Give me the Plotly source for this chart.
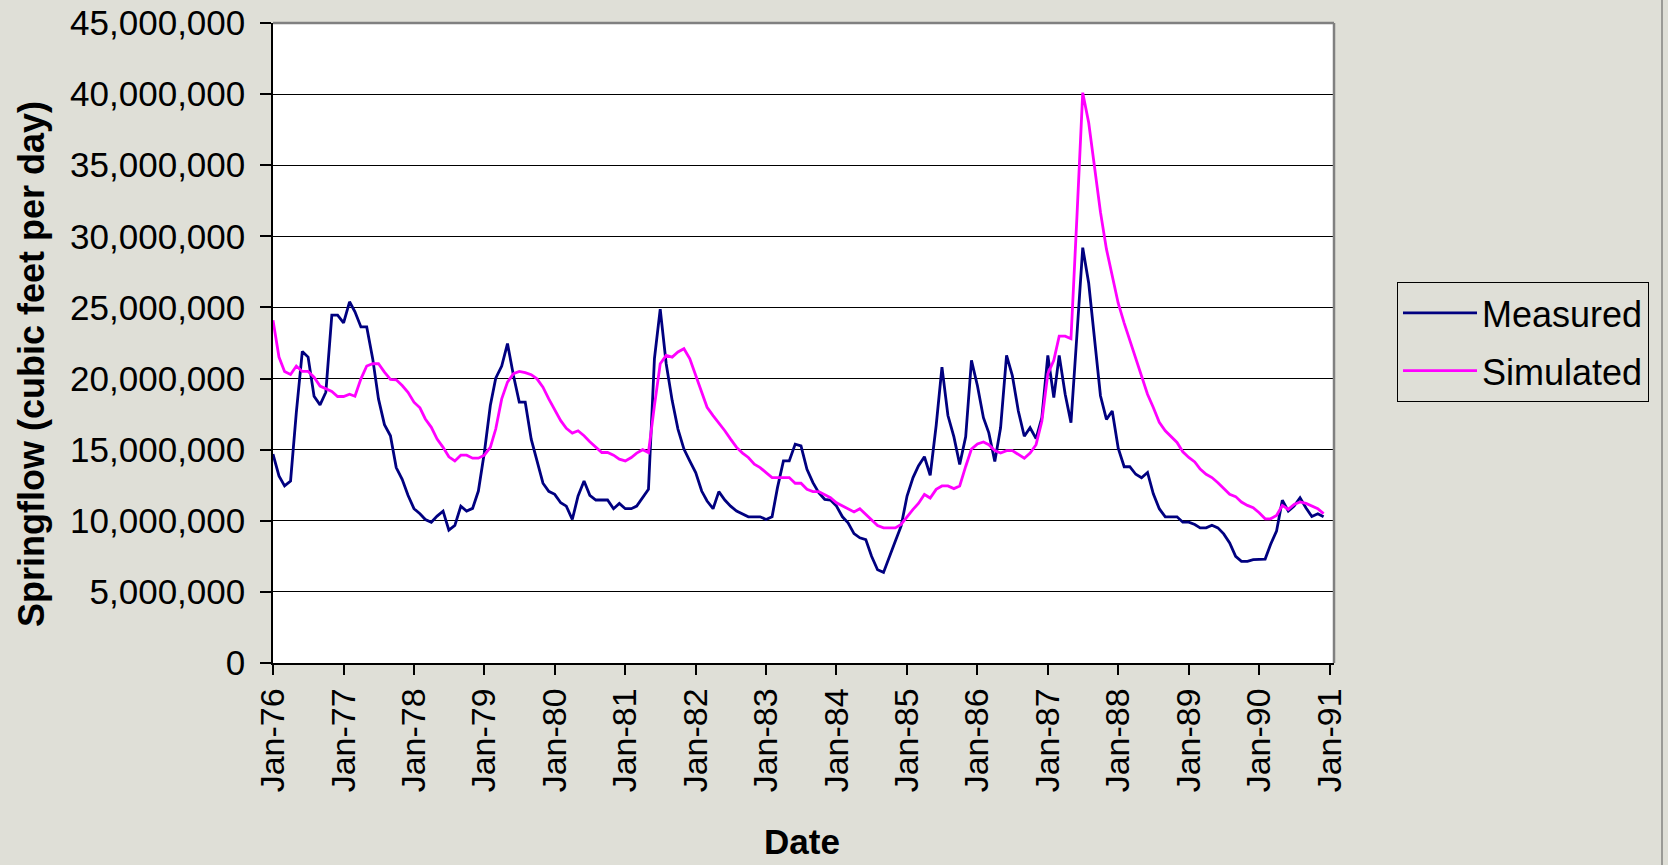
import pandas as pd
import plotly.graph_objects as go

# Monthly springflow, Jan 1976 - Dec 1990, in millions of cubic feet per day
MILLION = 1_000_000

measured_mcfd = [
    14.69, 13.15, 12.45, 12.80, 17.63, 21.91, 21.51, 18.76, 18.15, 19.04, 24.46, 24.46,  # 1976
    23.92, 25.40, 24.69, 23.63, 23.63, 21.40, 18.57, 16.76, 15.98, 13.74, 12.92, 11.79,  # 1977
    10.85, 10.49, 10.09, 9.90, 10.33, 10.68, 9.34, 9.67, 11.03, 10.68, 10.87, 12.09,     # 1978
    14.80, 18.10, 20.03, 20.88, 22.46, 20.22, 18.34, 18.34, 15.74, 14.21, 12.64, 12.07,  # 1979
    11.86, 11.27, 11.03, 10.09, 11.74, 12.80, 11.79, 11.46, 11.46, 11.46, 10.85, 11.22,  # 1980
    10.85, 10.85, 11.03, 11.62, 12.21, 21.40, 24.88, 21.04, 18.45, 16.45, 15.04, 14.21,  # 1981
    13.39, 12.09, 11.39, 10.85, 12.05, 11.46, 11.03, 10.68, 10.49, 10.28, 10.28, 10.28,  # 1982
    10.09, 10.28, 12.33, 14.21, 14.21, 15.39, 15.27, 13.62, 12.68, 11.98, 11.51, 11.46,  # 1983
    11.03, 10.28, 9.86, 9.10, 8.80, 8.68, 7.50, 6.56, 6.37, 7.38, 8.56, 9.62,            # 1984
    11.74, 13.04, 13.86, 14.50, 13.20, 16.70, 20.80, 17.40, 15.90, 13.96, 15.90, 21.28,  # 1985
    19.50, 17.25, 16.18, 14.17, 16.54, 21.63, 20.21, 17.72, 15.94, 16.54, 15.78, 17.25,  # 1986
    21.63, 18.67, 21.63, 18.90, 16.90, 23.10, 29.20, 26.70, 22.70, 18.79, 17.13, 17.72,  # 1987
    15.10, 13.80, 13.80, 13.27, 13.03, 13.40, 11.90, 10.85, 10.28, 10.28, 10.28, 9.90,   # 1988
    9.90, 9.74, 9.50, 9.50, 9.69, 9.50, 9.08, 8.44, 7.50, 7.15, 7.15, 7.27,              # 1989
    7.31, 7.31, 8.33, 9.27, 11.44, 10.68, 11.03, 11.62, 10.90, 10.30, 10.49, 10.28,      # 1990
]

simulated_mcfd = [
    24.10, 21.51, 20.50, 20.29, 20.88, 20.50, 20.50, 20.10, 19.47, 19.28, 19.09, 18.74,  # 1976
    18.74, 18.90, 18.76, 19.98, 20.88, 21.04, 21.04, 20.45, 19.94, 19.91, 19.51, 19.04,  # 1977
    18.34, 17.94, 17.16, 16.57, 15.74, 15.16, 14.50, 14.21, 14.61, 14.61, 14.40, 14.40,  # 1978
    14.61, 15.16, 16.45, 18.57, 19.75, 20.34, 20.50, 20.41, 20.27, 19.98, 19.39, 18.57,  # 1979
    17.75, 17.04, 16.50, 16.17, 16.33, 15.98, 15.56, 15.16, 14.80, 14.80, 14.61, 14.33,  # 1980
    14.21, 14.45, 14.76, 15.00, 14.80, 18.10, 21.04, 21.63, 21.51, 21.87, 22.10, 21.40,  # 1981
    20.22, 19.04, 17.98, 17.39, 16.88, 16.33, 15.74, 15.16, 14.76, 14.45, 13.98, 13.74,  # 1982
    13.39, 13.04, 13.04, 13.04, 13.04, 12.64, 12.64, 12.21, 12.05, 12.05, 11.86, 11.62,  # 1983
    11.27, 11.03, 10.85, 10.62, 10.85, 10.45, 10.05, 9.67, 9.50, 9.50, 9.50, 9.74,       # 1984
    10.28, 10.80, 11.22, 11.85, 11.60, 12.21, 12.45, 12.45, 12.26, 12.45, 13.82, 15.04,  # 1985
    15.40, 15.54, 15.35, 14.93, 14.76, 14.93, 14.93, 14.64, 14.40, 14.76, 15.35, 17.00,  # 1986
    20.33, 21.28, 22.98, 22.98, 22.80, 31.40, 40.10, 37.99, 34.80, 31.70, 29.10, 27.20,  # 1987
    25.30, 23.90, 22.70, 21.50, 20.10, 18.90, 17.97, 16.92, 16.33, 15.93, 15.51, 14.85,  # 1988
    14.45, 14.14, 13.63, 13.27, 13.04, 12.68, 12.26, 11.86, 11.70, 11.32, 11.08, 10.92,  # 1989
    10.56, 10.14, 10.14, 10.38, 11.08, 10.80, 11.15, 11.32, 11.22, 11.03, 10.85, 10.50,  # 1990
]

dates = pd.date_range("1976-01-01", periods=len(measured_mcfd), freq="MS")
measured = [v * MILLION for v in measured_mcfd]
simulated = [v * MILLION for v in simulated_mcfd]

series_names = ["Measured", "Simulated"]
series_colors = ["#000080", "#FF00FF"]

# Page geometry (pixels)
W, H = 1668, 865
PLOT_L, PLOT_R, PLOT_T, PLOT_B = 273, 1334, 23, 663
PW, PH = PLOT_R - PLOT_L, PLOT_B - PLOT_T


def px_x(px):
    return (px - PLOT_L) / PW


def px_y(py):
    return (PLOT_B - py) / PH


FONT = "Arial, 'Liberation Sans', sans-serif"
PAPER = "#DFDFD7"

fig = go.Figure()
for name, color, values in zip(series_names, series_colors, [measured, simulated]):
    fig.add_trace(go.Scatter(
        x=dates, y=values, mode="lines", name=name, legendgroup=name,
        line=dict(color=color, width=2.8),
    ))

fig.update_layout(
    width=W, height=H,
    margin=dict(l=PLOT_L, r=W - PLOT_R, t=PLOT_T, b=H - PLOT_B, pad=0, autoexpand=False),
    paper_bgcolor=PAPER, plot_bgcolor="#FFFFFF",
    font=dict(family=FONT, size=34, color="#000000"),
    showlegend=True,
    legend=dict(
        x=px_x(1397), y=px_y(282), xanchor="left", yanchor="top",
        bgcolor="rgba(0,0,0,0)", bordercolor="#000000", borderwidth=1,
        font=dict(family=FONT, size=36, color="#000000"),
        tracegroupgap=8, itemwidth=74,
    ),
    xaxis=dict(
        type="date", range=["1976-01-01", "1991-01-24"], automargin=False,
        tick0="1976-01-01", dtick="M12", tickformat="%b-%y",
        tickangle=-90, ticks="outside", ticklen=10, tickwidth=1.5, tickcolor="#000000",
        tickfont=dict(family=FONT, size=34, color="#000000"),
        showgrid=False, showline=True, linecolor="#000000", linewidth=1.5,
        zeroline=False,
    ),
    yaxis=dict(
        range=[0, 45_000_000], tick0=0, dtick=5_000_000, tickformat=",d",
        automargin=False,
        ticks="outside", ticklen=11, tickwidth=1.5, tickcolor="#000000",
        ticklabelstandoff=8,
        tickfont=dict(family=FONT, size=35, color="#000000"),
        showgrid=True, gridcolor="#000000", gridwidth=1,
        showline=True, linecolor="#000000", linewidth=1.5,
        zeroline=False,
    ),
    annotations=[
        dict(text="Springflow (cubic feet per day)", textangle=-90,
             xref="paper", yref="paper", x=px_x(31), y=px_y(364),
             xanchor="center", yanchor="middle", showarrow=False,
             font=dict(family=FONT, size=36, color="#000000", weight="bold")),
        dict(text="Date", xref="paper", yref="paper", x=px_x(802), y=px_y(841),
             xanchor="center", yanchor="middle", showarrow=False,
             font=dict(family=FONT, size=35, color="#000000", weight="bold")),
    ],
    shapes=[
        # plot-area frame on top and right
        dict(type="line", xref="paper", yref="paper", x0=0, x1=1, y0=1, y1=1,
             line=dict(color="#808080", width=2.5), layer="above"),
        dict(type="line", xref="paper", yref="paper", x0=1, x1=1, y0=0, y1=1,
             line=dict(color="#808080", width=2.5), layer="above"),
        # chart-area edge on the right
        dict(type="line", xref="paper", yref="paper", x0=px_x(1662), x1=px_x(1662),
             y0=px_y(0), y1=px_y(H), line=dict(color="#9A9A96", width=2)),
    ],
)

fig.write_html("out.html")
